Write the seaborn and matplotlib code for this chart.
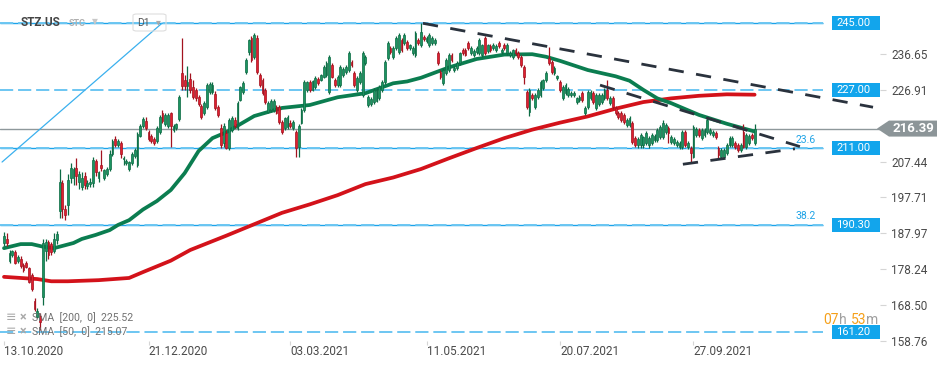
import numpy as np
import pandas as pd
import matplotlib
matplotlib.use("Agg")
import matplotlib.pyplot as plt
import seaborn as sns
from matplotlib.patches import Rectangle, Polygon, FancyBboxPatch
from matplotlib.transforms import blended_transform_factory

# STZ.US daily candles
symbol = "STZ.US"
last_price = 216.39
sma200_last = 225.52
sma50_last = 215.07

opens = [
    185.3, 186.5, 180.3, 182.0, 182.8, 180.5, 181.0, 179.2, 179.8, 178.4,
    176.5, 169.6, 165.3, 165.5, 170.5, 183.0, 185.5, 185.0, 183.0, 186.0,
    194.0, 201.5, 194.5, 195.5, 203.0, 203.0, 205.8, 202.0, 200.5, 203.5,
    200.8, 201.2, 201.5, 207.5, 203.0, 206.5, 203.0, 204.0, 205.5, 209.5,
    213.5, 212.0, 212.5, 208.0, 207.0, 205.3, 207.0, 209.0, 206.5, 214.5,
    217.0, 218.5, 215.5, 214.5, 213.5, 213.0, 215.5, 220.5, 217.5, 217.0,
    220.5, 216.0, 216.5, 219.0, 231.5, 229.5, 228.0, 229.8, 227.7, 226.8,
    224.9, 222.5, 220.6, 222.2, 226.3, 226.3, 225.8, 222.2, 216.5, 212.4,
    215.2, 211.1, 216.0, 218.8, 216.5, 224.1, 226.3, 231.7, 237.2, 241.0,
    235.8, 241.0, 230.9, 229.6, 226.8, 220.9, 221.5, 221.5, 222.2, 222.2,
    218.2, 216.5, 216.8, 218.0, 216.5, 215.4, 211.4, 217.9, 221.4, 226.8,
    229.0, 227.0, 227.7, 229.8, 229.6, 230.4, 230.9, 226.3, 233.6, 229.6,
    228.2, 228.2, 231.0, 231.7, 232.3, 234.5, 231.5, 226.8, 229.0, 225.5,
    234.2, 222.8, 223.0, 223.6, 224.0, 224.7, 226.8, 229.0, 235.5, 238.3,
    235.8, 238.3, 237.2, 240.4, 239.6, 239.9, 238.3, 236.9, 236.4, 240.4,
    239.1, 241.2, 240.1, 239.1, 239.6, 239.6, 236.9, 231.7, 228.8, 231.5,
    232.3, 236.4, 232.2, 232.8, 234.2, 237.7, 237.7, 239.6, 237.0, 236.4,
    237.2, 236.9, 236.4, 241.0, 237.5, 238.8, 238.3, 237.7, 239.6, 237.2,
    239.1, 236.9, 236.4, 235.8, 237.7, 236.9, 235.8, 233.1, 226.3, 220.9,
    225.5, 222.2, 224.9, 225.5, 227.4, 229.6, 235.5, 234.5, 231.5, 230.1,
    229.0, 224.7, 226.0, 225.5, 225.5, 225.5, 223.6, 224.1, 226.0, 220.6,
    222.2, 224.7, 226.0, 221.9, 223.0, 223.6, 224.7, 226.8, 223.3, 224.7,
    221.9, 220.6, 220.6, 220.1, 217.4, 217.4, 217.9, 213.8, 212.0, 211.9,
    211.9, 212.4, 211.9, 212.4, 213.3, 213.3, 214.1, 214.1, 215.4, 216.5,
    212.7, 212.4, 211.9, 211.4, 211.4, 215.4, 211.4, 211.1, 208.6, 214.6,
    216.0, 213.8, 214.6, 215.4, 215.1, 214.6, 215.2, 211.1, 208.6, 208.8,
    209.7, 211.9, 211.9, 212.4, 211.9, 210.5, 215.5, 211.4, 212.4, 214.6, 212.4,
]
highs = [
    188.3, 188.0, 183.4, 183.5, 183.5, 182.0, 181.8, 179.8, 180.4, 178.8,
    177.2, 170.4, 167.6, 166.3, 186.5, 186.5, 186.0, 185.5, 188.0, 188.6,
    205.5, 202.5, 195.5, 204.0, 207.0, 206.0, 208.5, 205.0, 204.5, 204.5,
    202.5, 203.0, 208.8, 208.0, 205.0, 210.5, 205.5, 206.0, 210.5, 213.5,
    214.5, 213.5, 213.0, 209.0, 208.0, 207.5, 210.0, 211.0, 215.5, 217.5,
    219.5, 219.5, 216.0, 215.0, 214.0, 217.0, 220.0, 221.5, 220.5, 220.5,
    221.0, 217.5, 218.0, 225.5, 241.0, 231.0, 233.5, 231.5, 229.5, 227.5,
    225.5, 223.0, 223.8, 228.8, 229.0, 229.0, 226.5, 222.8, 217.5, 217.8,
    216.0, 219.2, 219.8, 219.5, 223.8, 228.0, 229.2, 235.5, 240.8, 241.5,
    242.3, 241.8, 231.5, 230.2, 227.5, 223.8, 224.5, 224.3, 222.8, 222.8,
    218.8, 219.6, 220.0, 218.6, 218.6, 216.0, 217.6, 221.9, 229.5, 229.4,
    229.5, 229.5, 230.6, 230.3, 231.3, 233.6, 234.7, 236.3, 234.2, 230.1,
    230.9, 233.6, 233.0, 233.6, 237.4, 235.0, 232.0, 230.6, 232.0, 237.4,
    236.3, 225.4, 225.0, 227.3, 227.5, 228.2, 229.5, 235.0, 240.1, 238.8,
    238.8, 241.5, 242.3, 240.9, 242.3, 240.4, 239.5, 238.8, 242.8, 240.9,
    245.0, 241.8, 241.5, 242.3, 241.5, 240.9, 237.4, 232.2, 232.8, 235.5,
    236.9, 236.9, 233.4, 234.7, 237.2, 238.2, 238.2, 240.1, 238.8, 237.9,
    238.8, 240.9, 239.5, 241.5, 239.5, 239.3, 239.6, 239.3, 240.1, 238.3,
    239.6, 239.6, 237.4, 238.0, 238.2, 237.4, 236.3, 233.6, 226.8, 227.3,
    226.0, 226.0, 227.3, 229.5, 229.9, 232.0, 238.5, 235.0, 233.3, 230.9,
    229.5, 228.2, 228.7, 227.8, 226.6, 226.6, 225.1, 225.6, 226.5, 222.4,
    226.8, 226.8, 226.5, 226.0, 226.0, 226.0, 227.3, 229.5, 225.2, 225.2,
    222.4, 221.1, 221.1, 220.6, 219.2, 219.7, 218.4, 214.3, 214.0, 215.1,
    214.5, 215.6, 214.4, 215.1, 215.0, 216.5, 217.3, 218.8, 217.8, 217.0,
    214.6, 214.0, 213.2, 212.9, 215.9, 215.9, 212.9, 211.6, 217.3, 216.8,
    216.5, 216.5, 216.5, 219.2, 216.5, 215.9, 215.7, 211.6, 211.0, 211.2,
    212.4, 214.3, 214.3, 212.9, 212.4, 212.4, 217.5, 215.1, 214.9, 215.1, 217.5,
]
lows = [
    184.6, 184.5, 179.8, 181.5, 179.5, 180.0, 178.5, 177.5, 178.4, 174.4,
    172.3, 166.8, 164.9, 161.6, 168.5, 180.5, 181.0, 182.0, 182.5, 185.0,
    192.0, 192.0, 191.5, 193.0, 201.5, 201.0, 201.0, 200.0, 199.8, 200.0,
    200.0, 200.5, 200.5, 203.5, 202.0, 205.0, 202.5, 203.5, 205.0, 209.0,
    211.5, 211.5, 208.5, 206.5, 206.5, 205.0, 206.5, 208.5, 206.0, 214.0,
    216.5, 216.0, 213.0, 212.5, 212.0, 212.5, 215.0, 218.0, 217.0, 216.5,
    211.5, 215.5, 216.0, 218.5, 227.0, 227.0, 225.0, 226.0, 224.5, 224.0,
    222.5, 219.0, 220.0, 221.8, 225.8, 225.8, 221.5, 219.5, 211.0, 211.5,
    210.8, 210.5, 215.5, 216.5, 216.0, 223.8, 225.8, 231.2, 236.5, 234.5,
    235.3, 231.2, 227.8, 225.5, 223.0, 220.5, 221.0, 221.0, 220.3, 217.5,
    214.8, 216.0, 216.3, 216.5, 216.0, 208.6, 208.6, 217.5, 221.0, 226.4,
    226.3, 226.5, 227.2, 228.3, 229.2, 230.0, 230.5, 225.8, 230.0, 227.8,
    227.8, 227.8, 230.5, 231.2, 231.8, 233.2, 227.8, 226.3, 228.5, 225.0,
    233.8, 222.3, 222.5, 223.1, 223.5, 224.2, 226.3, 228.5, 235.0, 236.7,
    235.3, 237.8, 236.7, 237.2, 239.1, 237.8, 237.8, 236.4, 235.9, 239.1,
    238.6, 240.1, 239.6, 238.6, 239.1, 239.1, 233.7, 229.9, 228.3, 231.0,
    231.8, 234.5, 231.8, 232.3, 233.7, 236.4, 236.0, 237.8, 236.5, 235.9,
    236.7, 236.4, 235.9, 236.4, 237.0, 237.2, 237.8, 237.2, 238.3, 236.7,
    237.8, 236.4, 235.9, 235.3, 236.4, 235.3, 233.2, 228.5, 221.7, 219.8,
    224.2, 221.7, 224.4, 225.0, 226.9, 229.1, 233.7, 231.2, 231.0, 229.6,
    226.3, 224.2, 225.5, 225.0, 225.0, 225.0, 223.1, 223.6, 223.6, 220.1,
    221.7, 224.2, 223.1, 221.4, 222.5, 223.1, 224.2, 224.2, 222.8, 221.7,
    220.1, 219.0, 218.2, 217.7, 216.9, 216.9, 212.2, 211.4, 211.0, 211.2,
    211.2, 212.0, 211.2, 212.0, 212.8, 212.8, 213.6, 213.6, 215.0, 212.4,
    212.2, 212.0, 211.4, 210.9, 210.9, 211.4, 210.9, 207.3, 208.3, 214.1,
    214.1, 213.3, 214.1, 214.9, 214.6, 214.1, 213.6, 208.1, 208.1, 208.3,
    209.2, 211.4, 211.4, 210.9, 210.0, 210.0, 211.0, 210.9, 211.9, 213.3, 211.9,
]
closes = [
    187.3, 185.3, 182.5, 183.0, 180.0, 181.4, 179.0, 178.0, 178.8, 174.8,
    172.8, 167.4, 166.8, 163.8, 185.3, 185.5, 182.0, 182.8, 186.5, 187.8,
    202.0, 194.5, 192.8, 202.5, 205.8, 205.5, 203.5, 204.0, 203.0, 201.0,
    201.5, 202.0, 207.8, 204.5, 204.5, 205.6, 205.0, 205.5, 209.5, 213.0,
    212.0, 213.0, 209.5, 208.5, 207.5, 207.2, 209.5, 210.5, 215.0, 217.0,
    219.0, 216.5, 213.5, 213.0, 212.5, 216.5, 219.5, 218.5, 220.0, 220.0,
    217.0, 217.0, 217.5, 225.0, 228.0, 228.0, 229.0, 227.0, 225.0, 224.7,
    223.2, 219.5, 223.3, 228.2, 228.5, 228.3, 222.0, 220.1, 211.9, 217.1,
    211.1, 218.7, 219.2, 217.0, 223.3, 227.7, 228.8, 235.0, 240.4, 235.0,
    241.8, 231.7, 228.2, 226.0, 223.6, 223.3, 224.0, 223.8, 220.6, 218.2,
    215.4, 219.2, 219.5, 217.0, 218.2, 211.1, 217.1, 221.4, 229.0, 229.0,
    226.8, 229.2, 230.1, 228.7, 230.9, 233.1, 234.2, 235.8, 230.4, 228.2,
    230.4, 233.1, 232.5, 233.1, 236.9, 233.7, 228.2, 230.1, 231.5, 236.9,
    235.8, 224.9, 224.5, 226.8, 227.0, 227.7, 229.0, 234.5, 239.6, 237.2,
    238.3, 241.0, 241.8, 237.7, 241.8, 238.3, 239.0, 238.3, 242.3, 239.6,
    242.6, 240.6, 241.0, 241.8, 241.0, 240.4, 234.2, 230.4, 232.3, 235.0,
    236.4, 235.0, 232.8, 234.2, 236.9, 236.9, 236.5, 238.3, 238.3, 237.4,
    238.3, 240.4, 239.0, 236.9, 239.0, 237.7, 239.1, 238.8, 238.8, 237.8,
    238.3, 239.1, 236.9, 237.7, 236.9, 235.8, 233.7, 230.4, 222.2, 226.8,
    224.7, 225.5, 226.8, 229.0, 229.6, 231.5, 234.2, 231.7, 232.8, 230.6,
    226.8, 227.7, 228.2, 227.2, 226.1, 226.1, 224.6, 225.1, 224.1, 221.9,
    226.3, 226.3, 223.6, 225.5, 225.5, 225.5, 226.8, 224.7, 224.7, 222.2,
    220.6, 219.5, 218.7, 218.2, 218.7, 219.2, 212.7, 211.9, 213.5, 214.6,
    214.0, 215.1, 213.9, 214.6, 214.5, 216.0, 216.8, 217.9, 217.3, 215.2,
    214.1, 213.5, 212.7, 212.4, 215.4, 211.9, 212.4, 209.7, 216.8, 216.3,
    214.6, 216.0, 216.0, 218.7, 216.0, 215.4, 214.1, 209.2, 210.5, 210.7,
    211.9, 213.8, 213.8, 211.4, 210.5, 211.9, 211.4, 214.6, 214.4, 213.8, 216.39,
]

# moving averages, read at selected candle positions
sma50_idx = [0, 6, 10, 14, 18, 21, 25, 28, 33, 38, 41, 45, 50, 55, 60, 65, 70, 75, 80,
             90, 100, 110, 120, 130, 140, 145, 150, 160, 170, 180, 190, 195, 200, 210,
             220, 225, 230, 235, 240, 250, 260, 270]
sma50 = [183.9, 185.0, 185.0, 184.3, 183.9, 184.5, 185.3, 186.4, 187.5, 188.8, 190.2,
         191.5, 194.4, 196.7, 199.7, 204.3, 210.3, 213.8, 215.4, 219.8, 222.0, 222.8,
         224.9, 226.0, 228.7, 229.2, 230.2, 233.0, 235.3, 236.5, 236.6, 235.9, 234.8,
         232.3, 230.6, 229.4, 226.9, 224.6, 223.3, 220.1, 217.7, 215.6]
sma200_idx = [0, 12, 17, 23, 34, 45, 50, 60, 67, 70, 80, 90, 100, 110, 120, 130, 140,
              150, 160, 170, 180, 190, 200, 210, 220, 230, 240, 250, 260, 270]
sma200 = [176.1, 175.5, 174.9, 174.9, 175.2, 175.8, 177.4, 180.5, 183.4, 184.3, 187.3,
          190.4, 193.5, 195.8, 198.3, 201.3, 203.1, 205.4, 208.3, 211.1, 213.8, 216.1,
          218.0, 219.7, 221.8, 223.6, 224.6, 225.3, 225.7, 225.6]

date_idx = [0, 52, 103, 152, 200, 248]
date_labels = ["13.10.2020", "21.12.2020", "03.03.2021", "11.05.2021",
               "20.07.2021", "27.09.2021"]
price_ticks = [158.76, 168.50, 178.24, 187.97, 197.71, 207.44, 226.91, 236.65]

levels = [245.00, 227.00, 211.00, 190.30, 161.20]
fib_levels = [245.00, 211.00, 190.30]
fib_labels = ["", "23.6", "38.2"]

# hand-drawn trend lines: candle positions and prices of both ends
trend_x = [[150.7, 312.6], [214.4, 286.3], [244.2, 284.5]]
trend_y = [[245.0, 222.2], [228.2, 211.5], [206.7, 210.9]]
ray_x = [-0.7, 56.8]
ray_y = [207.3, 245.0]

# ---- layout (pixels of the 950x365 picture) ----
STEP = 2.78
X0 = 4


def ix(px):
    return (px - X0) / STEP


def fp(x, y):
    return x / 950, 1 - y / 365


sns.set_theme(style="white")
plt.rcParams["font.family"] = ["Roboto", "DejaVu Sans"]
plt.rcParams["lines.scale_dashes"] = False

fig = plt.figure(figsize=(9.5, 3.65), dpi=100)
ax = fig.add_axes([0, 24 / 365, 880 / 950, 341 / 365])
ax.set_facecolor("white")

# horizontal levels
xr = ix(823)
for lv in fib_levels:
    ax.hlines(lv, ix(0), xr, color="#1ba3ea", lw=1.0, zorder=1)
for lv in levels:
    ax.hlines(lv, ix(0), xr, color="#6cc6f2", lw=1.4,
              linestyles=(0, (9.5, 3.5)), zorder=1)
ax.axhline(last_price, color="#8e989b", lw=1, zorder=1)
ax.plot(ray_x, ray_y, color="#3ab0ee", lw=0.9, zorder=2)

# moving averages
sns.lineplot(x=sma200_idx, y=sma200, ax=ax, color="#d3121a", lw=2.7, zorder=3)
sns.lineplot(x=sma50_idx, y=sma50, ax=ax, color="#0b7d50", lw=2.7, zorder=3)

# candles
df = pd.DataFrame({"open": opens, "high": highs, "low": lows, "close": closes})
df["i"] = np.arange(len(df))
up = df["close"] >= df["open"]
edge = np.where(up, "#0c6b44", "#a3121f")
fill = np.where(up, "#1c9461", "#df1f30")
ax.vlines(df["i"], df["low"], df["high"], colors=edge, lw=0.9, zorder=4)
body_lo = df[["open", "close"]].min(axis=1)
body_h = (df["close"] - df["open"]).abs().clip(lower=0.3)
ax.bar(df["i"], body_h, bottom=body_lo, width=0.66, color=fill,
       edgecolor=edge, linewidth=0.5, zorder=5)

# trend lines
for xs, ys in zip(trend_x, trend_y):
    ax.plot(xs, ys, color="#2a323d", lw=2.0, linestyle=(0, (11, 9)), zorder=6)

ax.set_xlim(ix(0), ix(880))
ax.set_ylim(158.67, 251.33)

# level boxes on the right
bt = blended_transform_factory(ax.transAxes, ax.transData)
bh = 14 / 3.68
for lv in levels:
    ax.add_patch(Rectangle((832 / 880, lv - bh / 2), 48 / 880, bh, transform=bt,
                           fc="#12a5ec", ec="none", zorder=8, clip_on=False))
    ax.text(836 / 880, lv, f"{lv:.2f}", transform=bt, color="white", fontsize=8,
            va="center", ha="left", zorder=9)
for lv, lab in zip(fib_levels, fib_labels):
    if lab:
        ax.text(816 / 880, lv + 2.4, lab, transform=bt, color="#1fa3e6",
                fontsize=7.5, ha="right", va="center")

# current price tag
ph = 8 / 3.68
pts = [(877 / 880, last_price), (889 / 880, last_price + ph), (937 / 880, last_price + ph),
       (937 / 880, last_price - ph), (889 / 880, last_price - ph)]
ax.add_patch(Polygon(pts, closed=True, transform=bt, fc="#8c9598", ec="none",
                     clip_on=False, zorder=8))
ax.text(913 / 880, last_price, f"{last_price:.2f}", transform=bt, color="white",
        fontsize=9.5, fontweight="bold", ha="center", va="center", zorder=9)

# axes ticks
ax.yaxis.tick_right()
ax.set_yticks(price_ticks)
ax.set_yticklabels([f"{v:.2f}" for v in price_ticks])
ax.tick_params(axis="y", right=True, labelright=True, left=False, length=4, width=0.8,
               color="#d5d5d5", pad=4, labelsize=8.5, labelcolor="#4a4a4a")
ax.set_xticks(date_idx)
ax.set_xticklabels(date_labels)
ax.tick_params(axis="x", bottom=True, length=3, width=0.8, color="#d5d5d5", pad=0,
               labelsize=8.5, labelcolor="#4a4a4a")
for t in ax.get_xticklabels():
    t.set_ha("left")
for s in ax.spines.values():
    s.set_visible(False)
ax.set_xlabel("")
ax.set_ylabel("")
ax.grid(False)

# header
fig.text(*fp(21, 23), symbol, fontsize=8.5, fontweight="bold", color="#454545", va="center")
fig.text(*fp(69, 24), "STC", fontsize=6.5, fontweight="bold", color="#b0b0b0", va="center")
fig.text(*fp(92, 22), "▼", fontsize=5.5, color="#c8c8c8", va="center")
fig.patches.append(FancyBboxPatch(fp(133, 31), 33 / 950, 17 / 365,
                                  boxstyle="round,pad=0,rounding_size=0.004",
                                  transform=fig.transFigure, fc="none", ec="#dedede", lw=0.8))
fig.text(*fp(137, 23), "D1", fontsize=7.5, color="#555555", va="center")
fig.text(*fp(156, 22), "▾", fontsize=7, color="#aaaaaa", va="center")

# indicator legend
for k, (name, val) in enumerate([("SMA  [200,  0]", sma200_last), ("SMA  [50,  0]", sma50_last)]):
    y = 318 + 13.4 * k
    fig.text(*fp(6, y), "≡", fontsize=9, color="#a9a9a9", va="center")
    fig.text(*fp(20, y), "×", fontsize=9, fontweight="bold", color="#a9a9a9", va="center")
    fig.text(*fp(32, y), f"{name}  {val:.2f}", fontsize=7.6, color="#707070", va="center")

# candle timer
for x, s, c in [(823, "07", "#f5a01a"), (839, "h", "#a0a0a0"),
                (851, "53", "#f5a01a"), (866, "m", "#a0a0a0")]:
    fig.text(*fp(x, 320), s, fontsize=10, color=c, va="center")

fig.savefig("out.png", dpi=100)
